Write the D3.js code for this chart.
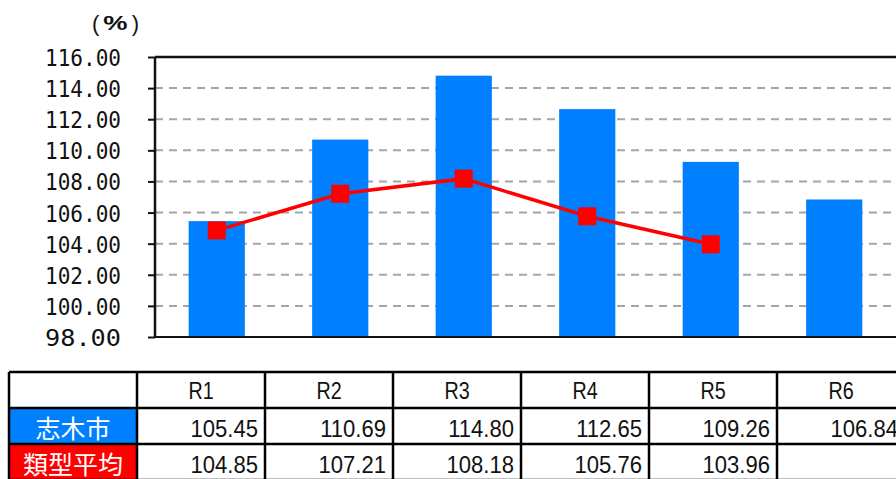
<!DOCTYPE html>
<html>
<head>
<meta charset="utf-8">
<script src="https://cdn.jsdelivr.net/npm/d3@7"></script>
<style>
  html, body { margin: 0; padding: 0; background: #fff; }
  svg { display: block; }
</style>
</head>
<body>
<svg id="chart" width="896" height="479"></svg>
<script>
// Fiscal years and the two series (%)
const years = ["R1", "R2", "R3", "R4", "R5", "R6"];
const shikiValues = [105.45, 110.69, 114.80, 112.65, 109.26, 106.84];
const typeAvgValues = [104.85, 107.21, 108.18, 105.76, 103.96, null];
const seriesNames = ["志木市", "類型平均"];
const yTicks = [98, 100, 102, 104, 106, 108, 110, 112, 114, 116];

const blue = "#0080ff";
const red = "#ff0000";

const svg = d3.select("#chart");

const plot = { left: 155, right: 896, top: 57, bottom: 337 };

const x = d3.scaleBand().domain(years).range([plot.left, plot.right]);
const y = d3.scaleLinear().domain([98, 116]).range([plot.bottom, plot.top]);
const barW = x.bandwidth() * 0.455;

// dashed gridlines
svg.append("g").selectAll("line")
  .data(yTicks.filter(v => v > 98 && v < 116))
  .join("line")
  .attr("x1", plot.left).attr("x2", plot.right)
  .attr("y1", d => y(d)).attr("y2", d => y(d))
  .attr("stroke", "#a6a6a6").attr("stroke-width", 2)
  .attr("stroke-dasharray", "8,6");

// bars
svg.append("g").selectAll("rect")
  .data(years.map((k, i) => ({ k, v: shikiValues[i] })))
  .join("rect")
  .attr("x", d => x(d.k) + (x.bandwidth() - barW) / 2)
  .attr("width", barW)
  .attr("y", d => y(d.v))
  .attr("height", d => y(98) - y(d.v))
  .attr("fill", blue);

// frame: top line and baseline
svg.append("line")
  .attr("x1", plot.left).attr("x2", plot.right)
  .attr("y1", y(116)).attr("y2", y(116))
  .attr("stroke", "#111").attr("stroke-width", 2.5);
svg.append("line")
  .attr("x1", plot.left).attr("x2", plot.right)
  .attr("y1", y(98)).attr("y2", y(98))
  .attr("stroke", "#111").attr("stroke-width", 2);

// y axis
const yAxis = d3.axisLeft(y)
  .tickValues(yTicks)
  .tickSize(7)
  .tickPadding(27)
  .tickFormat(d => d3.format(".2f")(d));
const ga = svg.append("g")
  .attr("transform", `translate(${plot.left},0)`)
  .call(yAxis);
ga.select(".domain").attr("stroke", "#111").attr("stroke-width", 2.5)
  .attr("d", `M0,${plot.top}V${plot.bottom}`);
ga.selectAll(".tick line").attr("stroke", "#111").attr("stroke-width", 2);
ga.selectAll(".tick text")
  .attr("font-family", "'DejaVu Sans Mono', monospace")
  .attr("font-size", 23.5)
  .attr("fill", "#111")
  .attr("textLength", 76)
  .attr("lengthAdjust", "spacingAndGlyphs")
  .attr("dy", "0.36em");

// unit label: thin parentheses around a bold, wide percent sign
const unit = svg.append("g").attr("fill", "#111")
  .attr("font-family", "'Liberation Sans', Arial, sans-serif");
unit.append("text")
  .attr("x", 92).attr("y", 23).attr("dominant-baseline", "central")
  .attr("font-size", 22).text("(");
unit.append("text")
  .attr("transform", "translate(115.5,23) scale(1.3,1)")
  .attr("text-anchor", "middle").attr("dominant-baseline", "central")
  .attr("font-size", 21).attr("font-weight", "bold").text("%");
unit.append("text")
  .attr("x", 139).attr("y", 23).attr("text-anchor", "end").attr("dominant-baseline", "central")
  .attr("font-size", 22).text(")");

// type-average line
const linePts = years.map((k, i) => ({ k, v: typeAvgValues[i] })).filter(d => d.v != null);
svg.append("path")
  .datum(linePts)
  .attr("d", d3.line().x(d => x(d.k) + x.bandwidth() / 2).y(d => y(d.v)))
  .attr("fill", "none").attr("stroke", red).attr("stroke-width", 3.5);
svg.append("g").selectAll("rect")
  .data(linePts)
  .join("rect")
  .attr("x", d => x(d.k) + x.bandwidth() / 2 - 9)
  .attr("y", d => y(d.v) - 9)
  .attr("width", 18).attr("height", 18)
  .attr("fill", red);

// data table
const tbl = { left: 9, top: 372, firstW: 128, colW: 128, rowH: 36 };
const colX = i => tbl.left + tbl.firstW + i * tbl.colW;
const rowY = r => tbl.top + r * tbl.rowH;
const tg = svg.append("g");
const latinFont = "'Liberation Sans', Arial, sans-serif";

// label cells and values
const rows = [
  { name: seriesNames[0], color: blue, vals: shikiValues },
  { name: seriesNames[1], color: red, vals: typeAvgValues }
];
rows.forEach((r, ri) => {
  tg.append("rect")
    .attr("x", tbl.left + 1).attr("y", rowY(ri + 1) + 1)
    .attr("width", tbl.firstW - 2).attr("height", tbl.rowH - 2)
    .attr("fill", r.color);
  tg.append("text")
    .attr("x", tbl.left + tbl.firstW / 2).attr("y", rowY(ri + 1) + tbl.rowH / 2 + 1)
    .attr("text-anchor", "middle").attr("dominant-baseline", "central")
    .attr("font-family", "'Noto Sans CJK JP', sans-serif")
    .attr("font-size", 25).attr("fill", "#fff")
    .text(r.name);
  r.vals.forEach((v, i) => {
    if (v == null) return;
    tg.append("text")
      .attr("transform", `translate(${colX(i + 1) - 7},${rowY(ri + 1) + tbl.rowH / 2 + 2.5}) scale(0.92,1)`)
      .attr("text-anchor", "end").attr("dominant-baseline", "central")
      .attr("font-family", latinFont)
      .attr("font-size", 24).attr("fill", "#111")
      .text(d3.format(".2f")(v));
  });
});

// header labels
years.forEach((k, i) => {
  tg.append("text")
    .attr("transform", `translate(${colX(i) + tbl.colW / 2},${rowY(0) + tbl.rowH / 2 + 1}) scale(0.84,1)`)
    .attr("text-anchor", "middle").attr("dominant-baseline", "central")
    .attr("font-family", latinFont)
    .attr("font-size", 23.5).attr("fill", "#111")
    .text(k);
});

// table rules
const nCols = years.length;
for (let r = 0; r <= 3; r++) {
  tg.append("line")
    .attr("x1", tbl.left).attr("x2", colX(nCols))
    .attr("y1", rowY(r)).attr("y2", rowY(r))
    .attr("stroke", "#000").attr("stroke-width", 2.5);
}
tg.append("line")
  .attr("x1", tbl.left).attr("x2", tbl.left)
  .attr("y1", rowY(0)).attr("y2", rowY(3))
  .attr("stroke", "#000").attr("stroke-width", 2.5);
for (let i = 0; i <= nCols; i++) {
  tg.append("line")
    .attr("x1", colX(i)).attr("x2", colX(i))
    .attr("y1", rowY(0)).attr("y2", rowY(3))
    .attr("stroke", "#000").attr("stroke-width", 2.5);
}
</script>
</body>
</html>
